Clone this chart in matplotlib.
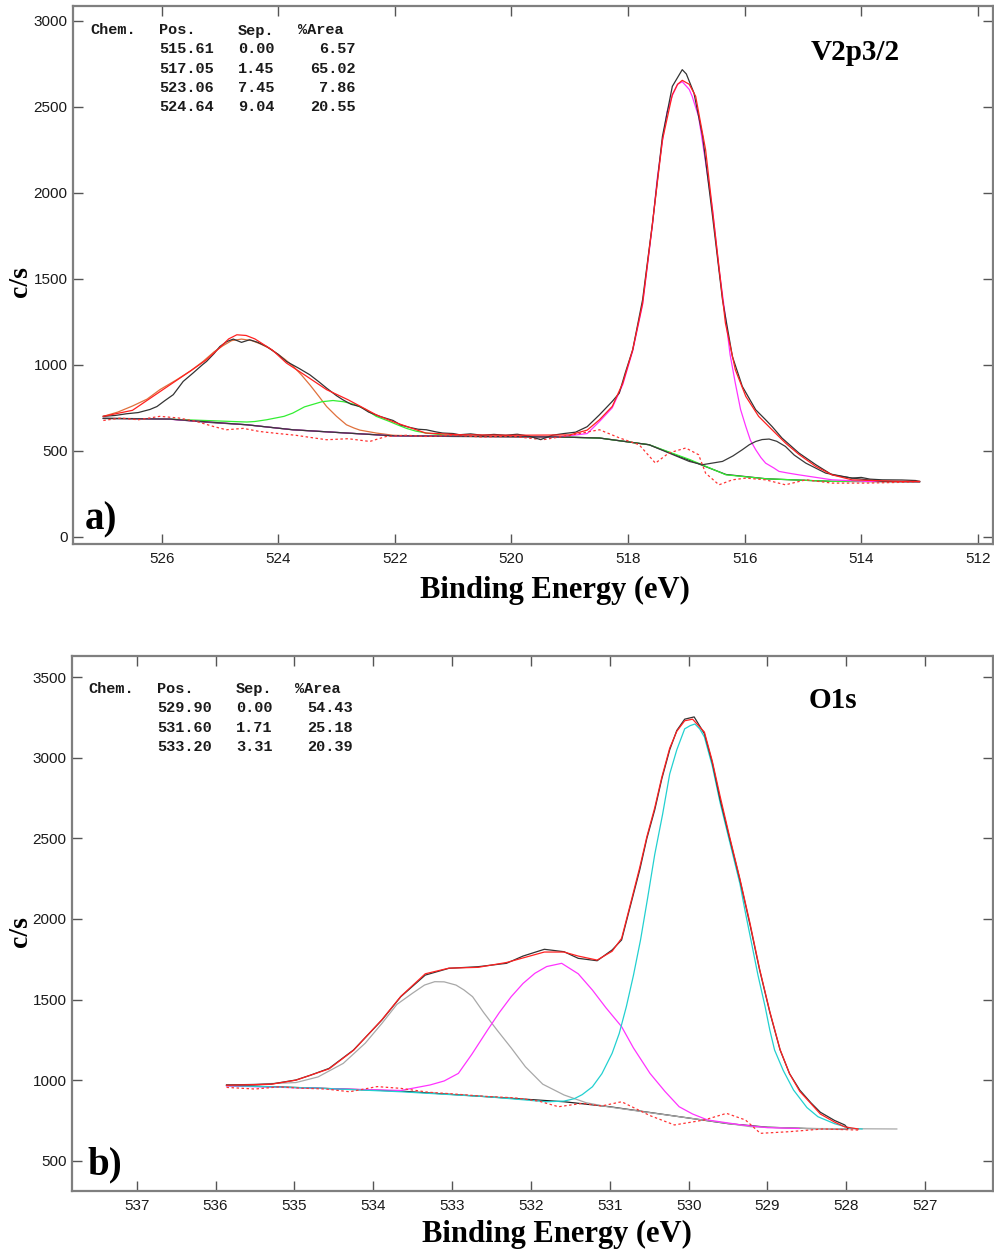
import matplotlib
matplotlib.use("Agg")
import matplotlib.pyplot as plt

W, H = 994, 1251

# ---------------- Panel a : V2p3/2 ----------------
a_raw_x = [527.0, 526.8, 526.6, 526.4, 526.2, 526.08, 525.95, 525.8, 525.63, 525.46, 525.3, 525.23, 525.1, 525.0,
           524.88, 524.77, 524.63, 524.49, 524.35, 524.2, 524.0, 523.86, 523.65, 523.46, 523.3, 523.17, 523.0,
           522.89, 522.75, 522.6, 522.45, 522.26, 522.03, 521.9, 521.75, 521.6, 521.46, 521.3, 521.18, 521.0,
           520.89, 520.7, 520.5, 520.3, 520.1, 519.9, 519.7, 519.5, 519.3, 519.1, 518.9, 518.7, 518.49, 518.27,
           518.15, 518.05, 517.92, 517.75, 517.58, 517.41, 517.24, 517.07, 517.0, 516.87, 516.72, 516.55, 516.38,
           516.21, 516.04, 515.81, 515.64, 515.53, 515.36, 515.07, 514.78, 514.5, 514.16, 514.0, 513.85, 513.64,
           513.3, 513.07, 513.0]
a_raw_y = [700, 705, 715, 722, 740, 757, 790, 826, 903, 952, 1000, 1019, 1065, 1106,
           1135, 1149, 1130, 1145, 1130, 1106, 1060, 1019, 980, 942, 900, 864, 820,
           796, 770, 757, 725, 700, 676, 650, 636, 625, 622, 610, 603, 600,
           593, 598, 590, 595, 590, 596, 585, 565, 590, 600, 608, 640, 709, 787,
           835, 950, 1087, 1378, 1824, 2327, 2618, 2715, 2690, 2580, 2327, 1862, 1378,
           1048, 874, 738, 680, 641, 574, 487, 419, 360, 341, 345, 335, 331,
           330, 327, 322]

a_env_x = [527.0, 526.5, 526.0, 525.5, 525.23, 525.0, 524.85, 524.71, 524.55, 524.4, 524.1, 523.86, 523.5,
           523.17, 522.8, 522.32, 522.0, 521.7, 521.47, 520.89, 520.0, 519.0, 518.7, 518.49, 518.27, 518.09,
           517.92, 517.75, 517.58, 517.41, 517.24, 517.15, 517.07, 516.95, 516.84, 516.67, 516.5, 516.33,
           516.16, 515.98, 515.76, 515.53, 515.3, 515.07, 514.78, 514.5, 514.16, 513.36, 513.0]
a_env_y = [700, 735, 850, 965, 1029, 1100, 1150, 1174, 1170, 1150, 1085, 1010, 930,
           855, 796, 709, 665, 630, 603, 593, 590, 592, 620, 680, 758, 893,
           1087, 1357, 1824, 2306, 2570, 2630, 2653, 2630, 2560, 2250, 1746, 1242,
           971, 816, 700, 622, 545, 479, 409, 360, 331, 322, 322]

a_bg_x = [527.0, 526.5, 525.86, 525.2, 524.54, 523.75, 522.83, 522.03, 521.0, 519.18, 518.49, 517.64,
          516.95, 516.32, 515.63, 514.5, 513.0]
a_bg_y = [688, 687, 684, 665, 651, 622, 603, 587, 583, 580, 574, 535,
          445, 362, 337, 322, 320]

a_mag_x = [527.0, 525.9, 524.54, 523.75, 522.83, 522.03, 519.18, 518.7, 518.49, 518.27, 518.09, 517.92,
           517.75, 517.58, 517.5, 517.41, 517.33, 517.24, 517.15, 517.07, 516.95, 516.9, 516.79, 516.68,
           516.55, 516.44, 516.33, 516.25, 516.16, 516.07, 515.98, 515.9, 515.81, 515.72, 515.64, 515.5,
           515.41, 515.25, 515.07, 514.5, 513.93, 513.0]
a_mag_y = [688, 684, 651, 622, 603, 587, 580, 600, 670, 750, 885, 1080,
           1350, 1815, 2080, 2300, 2470, 2565, 2630, 2645, 2600, 2560, 2443, 2200,
           1900, 1560, 1280, 1060, 893, 740, 641, 560, 506, 460, 428, 400,
           380, 370, 360, 331, 322, 320]

a_grey_x = [527.0, 525.86, 524.54, 523.75, 522.83, 522.03, 519.18, 518.49, 517.64, 516.95, 516.72, 516.38,
            516.2, 516.04, 515.92, 515.81, 515.7, 515.58, 515.45, 515.3, 515.15, 514.95, 514.61, 514.16,
            513.64, 513.0]
a_grey_y = [688, 684, 651, 622, 603, 587, 580, 574, 535, 438, 419, 438,
            470, 506, 535, 554, 565, 568, 555, 525, 475, 428, 370, 341,
            322, 320]

a_green_x = [527.0, 525.9, 524.54, 524.4, 524.2, 523.9, 523.75, 523.55, 523.4, 523.25, 523.06, 522.88,
             522.7, 522.5, 522.32, 522.09, 521.95, 521.8, 521.65, 521.47, 521.0, 520.0, 519.18, 518.49,
             517.64, 516.95, 516.32, 515.63, 514.5, 513.0]
a_green_y = [688, 684, 667, 670, 680, 700, 719, 755, 770, 785, 792, 785,
             770, 740, 700, 670, 650, 630, 615, 603, 586, 582, 580, 574,
             535, 450, 360, 337, 322, 320]

a_orange_x = [527.0, 526.75, 526.5, 526.25, 526.03, 525.74, 525.5, 525.29, 525.1, 524.95, 524.8, 524.63,
              524.45, 524.3, 524.15, 524.0, 523.88, 523.74, 523.6, 523.45, 523.3, 523.17, 523.0, 522.83,
              522.7, 522.6, 522.32, 522.03, 521.5, 520.0, 519.0]
a_orange_y = [700, 725, 760, 800, 855, 913, 965, 1019, 1075, 1110, 1140, 1149,
              1140, 1120, 1095, 1060, 1030, 990, 940, 880, 815, 757, 700, 651,
              632, 620, 603, 590, 585, 582, 581]

a_res_x = [527.0, 526.7, 526.4, 526.03, 525.7, 525.4, 525.1, 524.89, 524.6, 524.32, 524.0, 523.7, 523.4,
           523.17, 522.8, 522.43, 522.15, 521.8, 521.47, 521.0, 520.5, 520.0, 519.46, 519.0, 518.49, 518.15,
           517.81, 517.53, 517.3, 517.01, 516.79, 516.67, 516.44, 516.21, 515.98, 515.64, 515.3, 514.95,
           514.5, 513.93, 513.36, 513.0]
a_res_y = [676, 690, 680, 700, 690, 670, 640, 622, 630, 612, 600, 590, 575,
           564, 570, 554, 583, 590, 583, 590, 580, 585, 564, 590, 622, 575,
           535, 428, 487, 516, 477, 370, 302, 331, 341, 331, 302, 331,
           312, 312, 316, 320]

a_xticks = [526, 524, 522, 520, 518, 516, 514, 512]
a_yticks = [0, 500, 1000, 1500, 2000, 2500, 3000]
a_head = ["Chem.", "Pos.", "Sep.", "%Area"]
a_pos = ["515.61", "517.05", "523.06", "524.64"]
a_sep = ["0.00", "1.45", "7.45", "9.04"]
a_area = ["6.57", "65.02", "7.86", "20.55"]

# ---------------- Panel b : O1s ----------------
b_raw_x = [535.86, 535.5, 535.29, 534.98, 534.8, 534.56, 534.25, 533.89, 533.65, 533.34, 533.04, 532.67,
           532.31, 532.1, 531.83, 531.58, 531.4, 531.16, 530.97, 530.85, 530.75, 530.62, 530.53, 530.43,
           530.34, 530.24, 530.15, 530.05, 529.93, 529.8, 529.7, 529.6, 529.48, 529.35, 529.22, 529.1,
           528.97, 528.84, 528.72, 528.59, 528.45, 528.33, 528.15, 528.02, 527.98]
b_raw_y = [970, 972, 976, 1001, 1030, 1073, 1187, 1373, 1518, 1652, 1694, 1704,
           1725, 1770, 1812, 1797, 1756, 1741, 1808, 1870, 2060, 2305, 2500, 2677,
           2870, 3050, 3170, 3240, 3254, 3150, 2970, 2740, 2500, 2243, 1960, 1684,
           1420, 1187, 1040, 938, 860, 801, 750, 722, 700]

b_env_x = [535.86, 535.29, 534.98, 534.56, 534.25, 533.89, 533.65, 533.34, 533.04, 532.67, 532.31, 531.83,
           531.58, 531.4, 531.16, 530.97, 530.85, 530.75, 530.62, 530.53, 530.43, 530.34, 530.24, 530.15,
           530.05, 529.95, 529.8, 529.7, 529.6, 529.48, 529.35, 529.22, 529.1, 528.97, 528.84, 528.72,
           528.59, 528.45, 528.33, 528.15, 528.02, 527.85]
b_env_y = [968, 975, 1000, 1070, 1185, 1375, 1520, 1660, 1695, 1700, 1730, 1795,
           1795, 1770, 1745, 1800, 1880, 2070, 2320, 2510, 2690, 2880, 3060, 3165,
           3230, 3240, 3160, 2980, 2760, 2510, 2250, 1970, 1690, 1425, 1190, 1040,
           930, 855, 790, 740, 710, 697]

b_cyan_x = [535.86, 534.68, 533.65, 532.55, 531.8, 531.58, 531.45, 531.35, 531.22, 531.1, 530.97, 530.88,
            530.79, 530.7, 530.61, 530.52, 530.43, 530.33, 530.24, 530.15, 530.05, 529.98, 529.92, 529.86,
            529.8, 529.7, 529.6, 529.48, 529.35, 529.28, 529.21, 529.12, 529.03, 528.97, 528.91, 528.8,
            528.67, 528.5, 528.36, 528.15, 527.94, 527.8]
b_cyan_y = [966, 950, 928, 897, 866, 870, 885, 910, 959, 1040, 1167, 1290,
            1456, 1650, 1870, 2130, 2400, 2650, 2900, 3050, 3180, 3200, 3210, 3180,
            3130, 2950, 2720, 2480, 2220, 2040, 1870, 1650, 1456, 1310, 1187, 1060,
            939, 830, 773, 730, 701, 697]

b_mag_x = [535.86, 534.68, 533.65, 533.28, 533.1, 532.92, 532.75, 532.55, 532.4, 532.25, 532.1, 531.95,
           531.8, 531.61, 531.4, 531.22, 531.05, 530.85, 530.7, 530.49, 530.3, 530.12, 529.95, 529.76,
           529.33, 529.0, 528.6]
b_mag_y = [964, 949, 936, 970, 995, 1042, 1160, 1311, 1420, 1518, 1600, 1663,
           1705, 1725, 1660, 1559, 1450, 1332, 1200, 1042, 930, 835, 790, 753,
           722, 705, 700]

b_grey_x = [535.86, 534.98, 534.7, 534.38, 534.1, 533.89, 533.7, 533.5, 533.35, 533.22, 533.1, 532.95,
            532.85, 532.74, 532.6, 532.43, 532.25, 532.07, 531.85, 531.58, 531.3, 531.03, 530.43, 529.82,
            529.21, 528.5, 527.36]
b_grey_y = [968, 985, 1020, 1104, 1230, 1352, 1470, 1540, 1590, 1611, 1610, 1590,
            1560, 1518, 1420, 1311, 1200, 1083, 975, 908, 860, 835, 794, 753,
            711, 700, 697]

b_bg_x = [535.86, 534.68, 533.65, 532.55, 531.58, 531.0, 530.5, 530.0, 529.5, 529.0, 528.5, 528.0]
b_bg_y = [968, 950, 932, 897, 866, 835, 800, 765, 730, 708, 700, 697]

b_res_x = [535.86, 535.5, 535.2, 534.9, 534.6, 534.3, 533.95, 533.65, 533.3, 533.0, 532.6, 532.2, 531.9,
           531.65, 531.35, 531.1, 530.85, 530.49, 530.18, 529.8, 529.52, 529.28, 529.09, 528.73, 528.3, 527.82]
b_res_y = [955, 945, 958, 950, 945, 928, 960, 949, 925, 915, 900, 890, 870,
           835, 856, 840, 866, 780, 722, 753, 794, 753, 670, 680, 697, 690]

b_xticks = [537, 536, 535, 534, 533, 532, 531, 530, 529, 528, 527]
b_yticks = [500, 1000, 1500, 2000, 2500, 3000, 3500]
b_head = ["Chem.", "Pos.", "Sep.", "%Area"]
b_pos = ["529.90", "531.60", "533.20"]
b_sep = ["0.00", "1.71", "3.31"]
b_area = ["54.43", "25.18", "20.39"]

# ---------------- Figure ----------------
fig = plt.figure(figsize=(W / 100, H / 100), dpi=100)


def fx(px):
    return px / W


def fy(py):
    return 1 - py / H


def make_ax(l, t, r, b):
    ax = fig.add_axes([fx(l), fy(b), fx(r) - fx(l), fy(t) - fy(b)])
    for s in ax.spines.values():
        s.set_color("#7f7f7f")
        s.set_linewidth(1.6)
    ax.tick_params(direction="in", length=7, width=1.0, color="#555555",
                   top=True, right=True, labelsize=11, labelcolor="#1a1a1a")
    ax.tick_params(axis="y", pad=4)
    ax.tick_params(axis="x", pad=6)
    return ax


def font_ticks(ax):
    for lab in ax.get_xticklabels() + ax.get_yticklabels():
        lab.set_family("Liberation Sans")


serif = "Liberation Serif"
mono = "Liberation Mono"
lw = 0.9

# Panel a
axa = make_ax(73, 6, 993, 544)
axa.plot(a_bg_x, a_bg_y, color="#202020", lw=lw)
axa.plot(a_orange_x, a_orange_y, color="#e0703c", lw=lw)
axa.plot(a_green_x, a_green_y, color="#33ee33", lw=lw)
axa.plot(a_mag_x, a_mag_y, color="#ff33ff", lw=lw)
axa.plot(a_grey_x, a_grey_y, color="#3a3a3a", lw=lw)
axa.plot(a_res_x, a_res_y, color="#ff3333", lw=lw, ls=(0, (2, 2)))
axa.plot(a_raw_x, a_raw_y, color="#333333", lw=lw)
axa.plot(a_env_x, a_env_y, color="#ff2020", lw=lw)
axa.set_xlim(527.52, 511.74)
axa.set_ylim(-42, 3085)
axa.set_xticks(a_xticks)
axa.set_yticks(a_yticks)
font_ticks(axa)

# Panel b
axb = make_ax(72, 656, 993, 1190.7)
axb.plot(b_bg_x, b_bg_y, color="#202020", lw=lw)
axb.plot(b_grey_x, b_grey_y, color="#a8a8a8", lw=lw)
axb.plot(b_mag_x, b_mag_y, color="#ff33ff", lw=lw)
axb.plot(b_cyan_x, b_cyan_y, color="#22d0d0", lw=lw)
axb.plot(b_res_x, b_res_y, color="#ff3333", lw=lw, ls=(0, (2, 2)))
axb.plot(b_raw_x, b_raw_y, color="#333333", lw=lw)
axb.plot(b_env_x, b_env_y, color="#ff2020", lw=lw)
axb.set_xlim(537.82, 526.14)
axb.set_ylim(314, 3632)
axb.set_xticks(b_xticks)
axb.set_yticks(b_yticks)
font_ticks(axb)

# Tables
tkw = dict(family=mono, weight="bold", fontsize=11, va="center", color="#1a1a1a")


def table(head, pos, sep, area, hy, rows_y, cx):
    for k in range(4):
        fig.text(fx(cx[k]), fy(hy), head[k], ha="left", **tkw)
    for i, yy in enumerate(rows_y):
        fig.text(fx(cx[1]), fy(yy), pos[i], ha="left", **tkw)
        fig.text(fx(cx[2]), fy(yy), sep[i], ha="left", **tkw)
        fig.text(fx(cx[4]), fy(yy), area[i], ha="right", **tkw)


table(a_head, a_pos, a_sep, a_area, 30.5, [49, 69, 88.3, 107.3], [90, 159, 238, 298, 356])
table(b_head, b_pos, b_sep, b_area, 689.3, [708.3, 727.7, 747.3], [88, 157, 236, 295, 353])

# Labels
lkw = dict(family=serif, weight="bold", color="black")
fig.text(fx(555), fy(590), "Binding Energy (eV)", ha="center", va="center", fontsize=22, **lkw)
fig.text(fx(557), fy(1234), "Binding Energy (eV)", ha="center", va="center", fontsize=22, **lkw)
fig.text(fx(20), fy(282), "c/s", ha="center", va="center", rotation=90, fontsize=20, **lkw)
fig.text(fx(20), fy(932), "c/s", ha="center", va="center", rotation=90, fontsize=20, **lkw)
fig.text(fx(855), fy(52), "V2p3/2", ha="center", va="center", fontsize=21, **lkw)
fig.text(fx(833), fy(700), "O1s", ha="center", va="center", fontsize=21, **lkw)
fig.text(fx(101), fy(520), "a)", ha="center", va="center", fontsize=28, **lkw)
fig.text(fx(105), fy(1165), "b)", ha="center", va="center", fontsize=28, **lkw)

fig.savefig("out.png", dpi=100, facecolor="white")
